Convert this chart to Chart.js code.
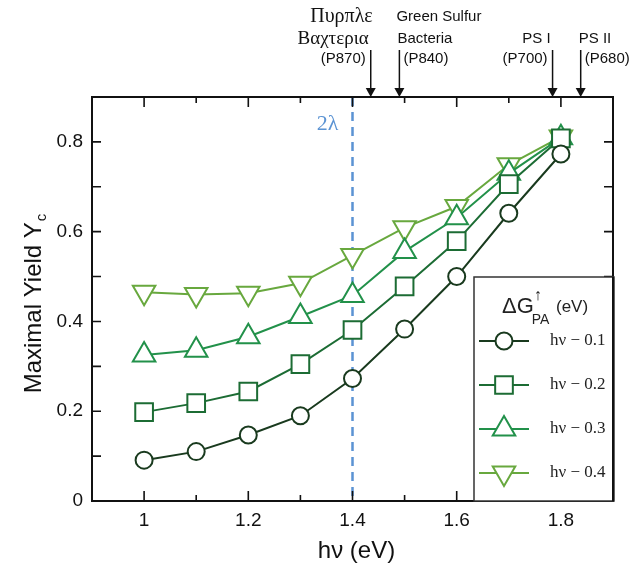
<!DOCTYPE html>
<html>
<head>
<meta charset="utf-8">
<script src="https://cdn.jsdelivr.net/npm/chart.js@4/dist/chart.umd.min.js"></script>
<style>
  html, body { margin: 0; padding: 0; background: #fff; }
</style>
</head>
<body>
<canvas id="myChart" width="638" height="567"></canvas>
<script>
// photon energy (eV)
const hv = [1.0, 1.1, 1.2, 1.3, 1.4, 1.5, 1.6, 1.7, 1.8];

// maximal yield for each dG_PA = hv - n
const yield01 = [0.091, 0.110, 0.147, 0.190, 0.273, 0.383, 0.500, 0.641, 0.773];
const yield02 = [0.198, 0.218, 0.244, 0.305, 0.381, 0.478, 0.579, 0.706, 0.808];
const yield03 = [0.325, 0.336, 0.366, 0.411, 0.458, 0.556, 0.631, 0.730, 0.809];
const yield04 = [0.465, 0.460, 0.463, 0.485, 0.547, 0.609, 0.656, 0.749, 0.811];

const seriesLabels = ['hν − 0.1', 'hν − 0.2', 'hν − 0.3', 'hν − 0.4'];

// x tick / y tick values that carry a label
const xTickLabels = [1, 1.2, 1.4, 1.6, 1.8];
const yTickLabels = [0, 0.2, 0.4, 0.6, 0.8];

// 2 lambda marker and pigment arrows (eV)
const lambdaLine = 1.4;
const pigmentX = [1.435, 1.49, 1.784, 1.838];
const pigmentText = [
  ['Πυρπλε', 'Βαχτερια', '(P870)'],
  ['Green Sulfur', 'Bacteria', '(P840)'],
  ['', 'PS I', '(P700)'],
  ['', 'PS II', '(P680)']
];

const SANS = '"Liberation Sans", Arial, sans-serif';
const SERIF = '"Liberation Serif", "Times New Roman", serif';

const colors = ['#193a1e', '#1c6c34', '#22914a', '#68a83e'];
const styles = [
  { pointStyle: 'circle', radius: 8.5, rotation: 0 },
  { pointStyle: 'rect', radius: 12.5, rotation: 0 },
  { pointStyle: 'triangle', radius: 13, rotation: 0 },
  { pointStyle: 'triangle', radius: 13, rotation: 180 }
];

const allYields = [yield01, yield02, yield03, yield04];

function makeSet(i) {
  return {
    label: seriesLabels[i],
    data: hv.map((x, k) => ({ x: x, y: allYields[i][k] })),
    borderColor: colors[i],
    borderWidth: 2,
    backgroundColor: '#fff',
    pointStyle: styles[i].pointStyle,
    pointRadius: styles[i].radius,
    pointRotation: styles[i].rotation,
    pointBackgroundColor: '#fff',
    pointBorderColor: colors[i],
    pointBorderWidth: 2,
    tension: 0
  };
}

function isLabelled(v, list) {
  return list.some(t => Math.abs(t - v) < 1e-6);
}

const decorPlugin = {
  id: 'decor',
  beforeDatasetsDraw(chart) {
    const ctx = chart.ctx;
    const a = chart.chartArea;
    const xs = chart.scales.x;
    const px = xs.getPixelForValue(lambdaLine);
    ctx.save();
    ctx.strokeStyle = '#5b93d3';
    ctx.lineWidth = 2.5;
    ctx.setLineDash([9, 6]);
    ctx.beginPath();
    ctx.moveTo(px, a.top);
    ctx.lineTo(px, a.bottom);
    ctx.stroke();
    ctx.setLineDash([]);
    ctx.fillStyle = '#5b93d3';
    ctx.font = '22px ' + SERIF;
    ctx.textAlign = 'center';
    ctx.textBaseline = 'middle';
    ctx.fillText('2λ', px - 25, 124);
    ctx.restore();
  },
  afterDraw(chart) {
    const ctx = chart.ctx;
    const a = chart.chartArea;
    const xs = chart.scales.x;
    const ys = chart.scales.y;
    ctx.save();

    // frame
    ctx.strokeStyle = '#111';
    ctx.lineWidth = 2;
    ctx.strokeRect(a.left, a.top, a.right - a.left, a.bottom - a.top);

    // inward ticks
    ctx.lineWidth = 1.6;
    ctx.beginPath();
    xs.ticks.forEach(t => {
      const p = xs.getPixelForValue(t.value);
      if (p <= a.left + 1 || p >= a.right - 1) return;
      const len = isLabelled(t.value, xTickLabels) ? 10 : 6;
      ctx.moveTo(p, a.bottom); ctx.lineTo(p, a.bottom - len);
      ctx.moveTo(p, a.top); ctx.lineTo(p, a.top + len);
    });
    ys.ticks.forEach(t => {
      const p = ys.getPixelForValue(t.value);
      if (p <= a.top + 1 || p >= a.bottom - 1) return;
      ctx.moveTo(a.left, p); ctx.lineTo(a.left + 9, p);
      ctx.moveTo(a.right, p); ctx.lineTo(a.right - 9, p);
    });
    ctx.stroke();

    // axis titles
    ctx.fillStyle = '#111';
    ctx.font = '24px ' + SANS;
    ctx.textAlign = 'center';
    ctx.textBaseline = 'middle';
    ctx.fillText('hν (eV)', (a.left + a.right) / 2 + 4, 551);

    ctx.save();
    ctx.translate(33, 304);
    ctx.rotate(-Math.PI / 2);
    ctx.textAlign = 'left';
    ctx.textBaseline = 'alphabetic';
    ctx.font = '24px ' + SANS;
    const main = 'Maximal Yield Y';
    const wMain = ctx.measureText(main).width;
    ctx.font = '15px ' + SANS;
    const wSub = ctx.measureText('c').width;
    const x0 = -(wMain + wSub) / 2;
    ctx.font = '24px ' + SANS;
    ctx.fillText(main, x0, 8);
    ctx.font = '15px ' + SANS;
    ctx.fillText('c', x0 + wMain + 1, 13);
    ctx.restore();

    // pigment arrows above plot
    pigmentX.forEach((v, i) => {
      const p = xs.getPixelForValue(v);
      ctx.strokeStyle = '#111';
      ctx.lineWidth = 1.5;
      ctx.beginPath();
      ctx.moveTo(p, 50);
      ctx.lineTo(p, 90);
      ctx.stroke();
      ctx.fillStyle = '#111';
      ctx.beginPath();
      ctx.moveTo(p - 5, 88);
      ctx.lineTo(p + 5, 88);
      ctx.lineTo(p, 97);
      ctx.closePath();
      ctx.fill();

      const lines = pigmentText[i];
      const leftSide = (i === 0 || i === 2);
      ctx.textBaseline = 'middle';
      ctx.textAlign = leftSide ? 'right' : 'left';
      const greek = (i === 0);
      ctx.font = (greek ? '20px ' + SERIF : '15px ' + SANS);
      if (lines[0]) ctx.fillText(lines[0], leftSide ? p + 2 : p - 3, 17);
      ctx.font = (greek ? '19px ' + SERIF : '15px ' + SANS);
      if (lines[1]) ctx.fillText(lines[1], leftSide ? p - 2 : p - 2, 39);
      ctx.font = '15px ' + SANS;
      ctx.fillText(lines[2], leftSide ? p - 5 : p + 4, 59);
    });

    // legend box
    const lx = 474, ly = 277, lr = a.right + 1, lb = a.bottom;
    ctx.fillStyle = '#fff';
    ctx.fillRect(lx, ly, lr - lx, lb - ly);
    ctx.strokeStyle = '#333';
    ctx.lineWidth = 1.5;
    ctx.strokeRect(lx, ly, lr - lx, lb - ly);
    ctx.lineWidth = 2;
    ctx.strokeStyle = '#111';
    ctx.beginPath();
    ctx.moveTo(a.right, ly); ctx.lineTo(a.right, lb);
    ctx.stroke();

    ctx.fillStyle = '#222';
    ctx.textAlign = 'left';
    ctx.textBaseline = 'alphabetic';
    ctx.font = '22px ' + SANS;
    ctx.fillText('ΔG', 502, 313);
    const wG = ctx.measureText('ΔG').width;
    ctx.font = '14px ' + SANS;
    ctx.fillText('PA', 502 + wG - 2, 324);
    ctx.font = '16px ' + SANS;
    ctx.fillText('↑', 502 + wG, 300);
    ctx.font = '17px ' + SANS;
    ctx.fillText('(eV)', 556, 312);

    chart.data.datasets.forEach((ds, i) => {
      const y = 341 + i * 44;
      ctx.strokeStyle = ds.borderColor;
      ctx.lineWidth = 2;
      ctx.beginPath();
      ctx.moveTo(479, y);
      ctx.lineTo(529, y);
      ctx.stroke();
      ctx.fillStyle = '#fff';
      Chart.helpers.drawPoint(ctx, {
        pointStyle: ds.pointStyle,
        rotation: ds.pointRotation,
        radius: ds.pointRadius,
        borderWidth: 2
      }, 504, y);
      ctx.fillStyle = '#222';
      ctx.font = '17px ' + SERIF;
      ctx.textBaseline = 'middle';
      ctx.fillText(ds.label, 550, y);
      ctx.textBaseline = 'alphabetic';
    });

    ctx.restore();
  }
};

const ctx = document.getElementById('myChart');
new Chart(ctx, {
  type: 'line',
  data: {
    datasets: [makeSet(0), makeSet(1), makeSet(2), makeSet(3)]
  },
  options: {
    responsive: false,
    animation: false,
    layout: { padding: { top: 97, right: 25, left: 0, bottom: 0 } },
    plugins: {
      legend: { display: false },
      tooltip: { enabled: false }
    },
    scales: {
      x: {
        type: 'linear',
        min: 0.9,
        max: 1.9,
        afterFit: (s) => { s.height = 66; },
        grid: { display: false, drawTicks: false },
        border: { display: false },
        ticks: {
          stepSize: 0.1,
          autoSkip: false,
          maxRotation: 0,
          padding: 8,
          color: '#111',
          font: { family: SANS, size: 19 },
          callback: (v) => isLabelled(v, xTickLabels) ? String(Number(v.toFixed(1))) : ''
        }
      },
      y: {
        type: 'linear',
        min: 0,
        max: 0.9,
        afterFit: (s) => { s.width = 92; },
        grid: { display: false, drawTicks: false },
        border: { display: false },
        ticks: {
          stepSize: 0.1,
          autoSkip: false,
          padding: 9,
          color: '#111',
          font: { family: SANS, size: 19 },
          callback: (v) => isLabelled(v, yTickLabels) ? String(Number(v.toFixed(1))) : ''
        }
      }
    }
  },
  plugins: [decorPlugin]
});
</script>
</body>
</html>
